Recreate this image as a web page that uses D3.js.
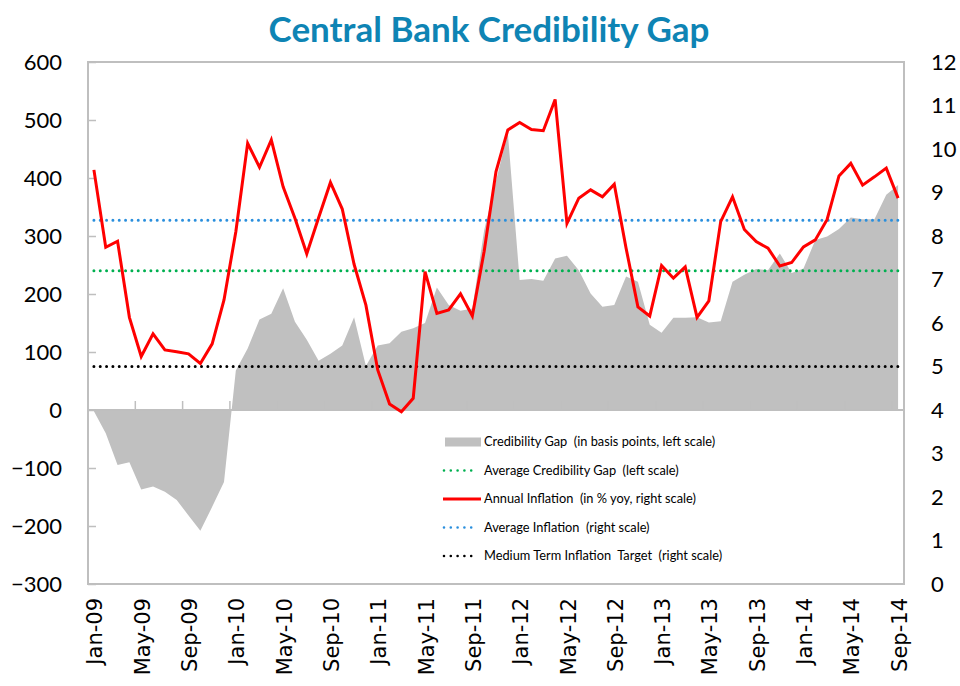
<!DOCTYPE html>
<html><head><meta charset="utf-8">
<script src="https://cdn.jsdelivr.net/npm/d3@7"></script>
<style>body{margin:0;background:#fff}svg{display:block}</style>
</head><body>
<svg id="c" width="960" height="686"></svg>
<script>
const categories = [
 "Jan-09","Feb-09","Mar-09","Apr-09","May-09","Jun-09","Jul-09","Aug-09","Sep-09","Oct-09","Nov-09","Dec-09",
 "Jan-10","Feb-10","Mar-10","Apr-10","May-10","Jun-10","Jul-10","Aug-10","Sep-10","Oct-10","Nov-10","Dec-10",
 "Jan-11","Feb-11","Mar-11","Apr-11","May-11","Jun-11","Jul-11","Aug-11","Sep-11","Oct-11","Nov-11","Dec-11",
 "Jan-12","Feb-12","Mar-12","Apr-12","May-12","Jun-12","Jul-12","Aug-12","Sep-12","Oct-12","Nov-12","Dec-12",
 "Jan-13","Feb-13","Mar-13","Apr-13","May-13","Jun-13","Jul-13","Aug-13","Sep-13","Oct-13","Nov-13","Dec-13",
 "Jan-14","Feb-14","Mar-14","Apr-14","May-14","Jun-14","Jul-14","Aug-14","Sep-14"];
const credibilityGap = [
 -2,-40,-95,-90,-137,-132,-141,-155,-182,-208,-167,-124,
 68,106,156,166,210,152,121,85,97,111,160,76,
 111,115,135,141,150,211,181,171,175,310,395,478,
 224,226,223,261,266,241,201,178,181,230,221,147,
 133,159,159,160,151,153,221,233,243,241,270,236,
 244,293,299,312,332,329,329,371,388];
const inflation = [
 9.52,7.74,7.88,6.13,5.23,5.75,5.38,5.34,5.29,5.07,5.52,6.53,
 8.10,10.13,9.58,10.21,9.13,8.41,7.59,8.42,9.23,8.62,7.35,6.41,
 4.92,4.14,3.96,4.27,7.18,6.22,6.30,6.67,6.16,7.65,9.48,10.44,
 10.61,10.45,10.42,11.14,8.29,8.87,9.06,8.90,9.19,7.72,6.37,6.16,
 7.32,7.03,7.29,6.13,6.51,8.33,8.90,8.15,7.87,7.72,7.31,7.39,
 7.75,7.91,8.38,9.38,9.67,9.17,9.36,9.56,8.87];
const avgCredibilityGap = 240;
const avgInflation = 8.36;
const inflationTarget = 5;
const leftTicks = [-300,-200,-100,0,100,200,300,400,500,600];
const rightTicks = [0,1,2,3,4,5,6,7,8,9,10,11,12];
const xTickLabels = ["Jan-09","May-09","Sep-09","Jan-10","May-10","Sep-10","Jan-11","May-11","Sep-11","Jan-12","May-12","Sep-12","Jan-13","May-13","Sep-13","Jan-14","May-14","Sep-14"];
const legendItems = [
 {label:"Credibility Gap  (in basis points, left scale)", type:"area", color:"#C0C0C0"},
 {label:"Average Credibility Gap  (left scale)", type:"dot", color:"#00B050"},
 {label:"Annual Inflation  (in % yoy, right scale)", type:"line", color:"#FF0000"},
 {label:"Average Inflation  (right scale)", type:"dot", color:"#2A8FDD"},
 {label:"Medium Term Inflation  Target  (right scale)", type:"dot", color:"#000000"}
];

const svg = d3.select("#c");
const L = 88, R = 904, T = 62, B = 584;
const x = d3.scaleBand().domain(categories).range([L, R]).padding(0);
const bw = x.bandwidth();
const cx = c => x(c) + bw / 2;
const yL = d3.scaleLinear().domain([-300, 600]).range([B, T]);
const yR = d3.scaleLinear().domain([0, 12]).range([B, T]);
const font = "Lato, 'Open Sans', sans-serif";

// title
svg.append("text").attr("x", 489).attr("y", 42).attr("text-anchor", "middle")
  .style("font-family", font).style("font-weight", "bold").style("font-size", "35px")
  .style("fill", "#0E84B4").text("Central Bank Credibility Gap");

// area
const area = d3.area().x((d, i) => cx(categories[i])).y0(yL(0)).y1(d => yL(d));
svg.append("path").datum(credibilityGap).attr("d", area).attr("fill", "#C0C0C0");

// plot border
svg.append("rect").attr("x", L).attr("y", T).attr("width", R - L).attr("height", B - T)
  .attr("fill", "none").attr("stroke", "#BFBFBF").attr("stroke-width", 2);

// zero axis line with inward ticks
svg.append("line").attr("x1", L).attr("x2", R).attr("y1", yL(0)).attr("y2", yL(0))
  .attr("stroke", "#BFBFBF").attr("stroke-width", 2);
svg.append("g").selectAll("line").data(categories.filter((c, i) => i % 4 === 0)).join("line")
  .attr("x1", d => x(d)).attr("x2", d => x(d)).attr("y1", yL(0)).attr("y2", yL(0) - 9)
  .attr("stroke", "#BFBFBF").attr("stroke-width", 1.5);

// left axis
const gL = svg.append("g").attr("transform", `translate(${L},0)`)
  .call(d3.axisLeft(yL).tickValues(leftTicks).tickSizeInner(-8).tickSizeOuter(0).tickPadding(26).tickFormat(d3.format("d")));
gL.select(".domain").remove();
gL.selectAll(".tick line").attr("stroke", "#BFBFBF").attr("stroke-width", 1.5);
gL.selectAll("text").style("font-family", font).style("font-size", "22px").style("fill", "#000");

// right axis
const gR = svg.append("g").attr("transform", `translate(${R},0)`)
  .call(d3.axisRight(yR).tickValues(rightTicks).tickSize(0).tickPadding(27).tickFormat(d3.format("d")));
gR.select(".domain").remove();
gR.selectAll("text").style("font-family", font).style("font-size", "22px").style("fill", "#000");

// x labels
svg.append("g").selectAll("text").data(xTickLabels).join("text")
  .attr("transform", d => `translate(${cx(d) + 1},598) rotate(-90)`)
  .attr("text-anchor", "end").attr("dy", "0.36em")
  .style("font-family", "'DejaVu Sans', sans-serif").style("font-size", "21px").style("fill", "#000")
  .text(d => d);

// dotted reference lines
function dotted(yv, color) {
  svg.append("line").attr("x1", cx(categories[0])).attr("x2", cx(categories[categories.length - 1]))
    .attr("y1", yv).attr("y2", yv).attr("stroke", color).attr("stroke-width", 3)
    .attr("stroke-linecap", "round").attr("stroke-dasharray", "0,6.33");
}
dotted(yL(avgCredibilityGap), "#00B050");
dotted(yR(avgInflation), "#2A8FDD");
dotted(yR(inflationTarget), "#000000");

// inflation line
const line = d3.line().x((d, i) => cx(categories[i])).y(d => yR(d));
svg.append("path").datum(inflation).attr("d", line).attr("fill", "none")
  .attr("stroke", "#FF0000").attr("stroke-width", 3).attr("stroke-linejoin", "miter");

// legend
const lg = svg.append("g");
legendItems.forEach((it, i) => {
  const yy = 442 + i * 28.5;
  if (it.type === "area") {
    lg.append("rect").attr("x", 445).attr("y", yy - 4.5).attr("width", 36).attr("height", 9).attr("fill", it.color);
  } else if (it.type === "line") {
    lg.append("line").attr("x1", 443).attr("x2", 481).attr("y1", yy).attr("y2", yy)
      .attr("stroke", it.color).attr("stroke-width", 3);
  } else {
    lg.append("line").attr("x1", 444).attr("x2", 478).attr("y1", yy).attr("y2", yy)
      .attr("stroke", it.color).attr("stroke-width", 2.6).attr("stroke-linecap", "round")
      .attr("stroke-dasharray", "0,6.8");
  }
  lg.append("text").attr("x", 484).attr("y", yy).attr("dy", "0.35em")
    .style("font-family", font).style("font-size", "12.8px").style("fill", "#000")
    .style("white-space", "pre").text(it.label);
});
</script>
</body></html>
